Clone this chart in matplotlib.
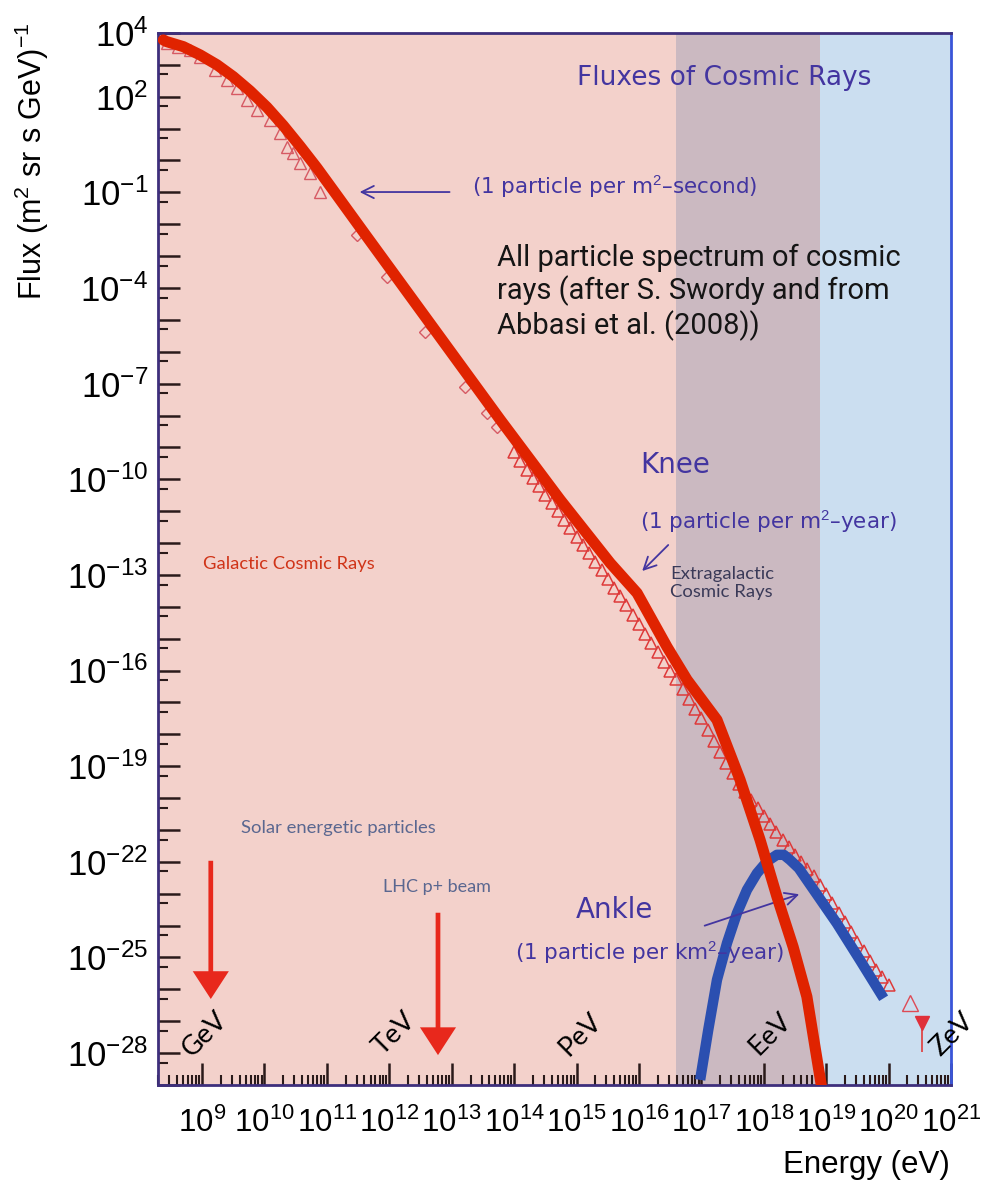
import math
import matplotlib.pyplot as plt
from matplotlib.ticker import FixedLocator, FuncFormatter, LogLocator, NullFormatter

plt.rcParams['font.family'] = 'Liberation Sans'
plt.rcParams['mathtext.fontset'] = 'custom'
plt.rcParams['mathtext.rm'] = 'Liberation Sans'

# all values are log10(E / eV) and log10(flux)
# hand drawn red curve (galactic cosmic rays)
fit_logE = [8.38, 8.43, 8.70, 8.97, 9.24, 9.50, 9.77, 10.04, 10.30, 10.57, 10.84, 11.10, 11.64,
            13.78, 14.74, 15.54, 15.97, 16.45, 16.77, 17.25, 17.62, 17.94, 18.21, 18.47,
            18.69, 18.82, 18.97]
fit_logF = [3.78, 3.73, 3.57, 3.31, 3.00, 2.63, 2.18, 1.67, 1.10, 0.45, -0.23, -0.93, -2.39,
            -8.14, -10.65, -12.63, -13.57, -15.26, -16.29, -17.55, -19.43, -21.31, -23.09, -24.67,
            -26.23, -27.80, -29.60]

# blue curve (extragalactic component)
extra_logE = [16.98, 17.11, 17.25, 17.41, 17.57, 17.73, 17.89, 18.05, 18.21, 18.32, 18.42,
              18.56, 18.69, 18.93, 19.17, 19.54, 19.92]
extra_logF = [-28.84, -27.27, -25.70, -24.55, -23.61, -22.88, -22.36, -21.99, -21.78, -21.78,
              -21.94, -22.20, -22.57, -23.25, -23.93, -25.08, -26.28]

# measured points: low energy triangles
low_logE = [8.44, 8.62, 8.81, 8.97, 9.21, 9.40, 9.56, 9.72, 9.88, 10.09, 10.25, 10.36, 10.46,
            10.57, 10.73, 10.89]
low_logF = [3.69, 3.56, 3.47, 3.25, 2.84, 2.53, 2.27, 1.90, 1.58, 1.27, 0.86, 0.42, 0.24,
            -0.08, -0.39, -0.99]
# diamonds
dia_logE = [11.48, 11.96, 12.57, 13.21, 13.56, 13.72]
dia_logF = [-2.34, -3.64, -5.37, -7.10, -7.92, -8.35]
# dense air shower data
band_logE = [14.0, 14.1, 14.2, 14.3, 14.4, 14.5, 14.6, 14.7, 14.8, 14.9, 15.0, 15.1, 15.2,
             15.3, 15.4, 15.5, 15.6, 15.7, 15.8, 15.9, 16.0, 16.1, 16.2, 16.3, 16.4, 16.5,
             16.6, 16.7, 16.8, 16.9, 17.0, 17.1, 17.2, 17.3, 17.4, 17.5, 17.6, 17.7, 17.8,
             17.9, 18.0, 18.1, 18.2, 18.3, 18.4, 18.5, 18.6, 18.7, 18.8, 18.9, 19.0, 19.1,
             19.2, 19.3, 19.4, 19.5, 19.6, 19.7, 19.8, 19.9, 20.0]
band_logF = [-9.15, -9.43, -9.70, -9.96, -10.22, -10.49, -10.75, -11.01, -11.27, -11.54, -11.80,
             -12.06, -12.32, -12.59, -12.85, -13.12, -13.40, -13.67, -13.95, -14.25, -14.55,
             -14.85, -15.15, -15.43, -15.72, -16.00, -16.28, -16.59, -16.90, -17.20, -17.50,
             -17.85, -18.20, -18.55, -18.90, -19.22, -19.55, -19.80, -20.05, -20.30, -20.55,
             -20.80, -21.05, -21.30, -21.55, -21.78, -22.00, -22.22, -22.45, -22.72, -23.00,
             -23.30, -23.60, -23.90, -24.20, -24.50, -24.80, -25.10, -25.40, -25.62, -25.85]
# highest energy points
top_logE = [20.35]
top_logF = [-26.43]
lim_logE = [20.53]
lim_logF = [-27.05]
lim_low = [-27.95]

# energy bands
galactic_end = 16.6
extra_start = 18.9

# reference energies
scale_names = ['GeV', 'TeV', 'PeV', 'EeV', 'ZeV']
scale_logE = [9.05, 12.09, 15.06, 18.10, 21.02]

# red arrows: solar particles and LHC beam
arrow_logE = [9.14, 12.78]
arrow_top = [-21.88, -23.51]
arrow_tip = [-26.39, -28.15]

y_labelled = [4, 2, -1, -4, -7, -10, -13, -16, -19, -22, -25, -28]


def p10(v):
    return [10.0 ** x for x in v]


fig = plt.figure(figsize=(9.94, 11.81), dpi=100)
ax = fig.add_axes([0.159, 0.0813, 0.7978, 0.8908])
ax.set_xscale('log')
ax.set_yscale('log')
ax.set_xlim(10 ** 8.295, 1e21)
ax.set_ylim(1e-29, 1e4)

ax.set_facecolor('#f3d1cb')
ax.axvspan(10 ** galactic_end, 10 ** extra_start, color='#cbb9c1', lw=0, zorder=0)
ax.axvspan(10 ** extra_start, 1e21, color='#cbdef0', lw=0, zorder=0)

purple = '#4335a0'

ax.plot(p10(low_logE), p10(low_logF), ls='none', marker='^', mfc='none', mec='#d65a64',
        ms=9, mew=1.0, zorder=2)
ax.plot(p10(dia_logE), p10(dia_logF), ls='none', marker='D', mfc='none', mec='#d65a64',
        ms=6, mew=1.0, zorder=2)
ax.plot(p10(band_logE), p10(band_logF), ls='none', marker='^', mfc='none', mec='#de3a3a',
        ms=8, mew=1.1, zorder=2)
ax.plot(p10(top_logE), p10(top_logF), ls='none', marker='^', mfc='none', mec='#de4a55',
        ms=12, mew=1.0, zorder=2)
ax.vlines(p10(lim_logE), p10(lim_low), p10(lim_logF), color='#e03a3a', lw=1.2, zorder=2)
ax.plot(p10(lim_logE), p10(lim_logF), ls='none', marker='v', color='#e0303a', ms=10, zorder=2)

ax.plot(p10(extra_logE), p10(extra_logF), color='#2b4fb0', lw=7.5,
        solid_capstyle='butt', zorder=3)
ax.plot(p10(fit_logE), p10(fit_logF), color='#e02300', lw=8,
        solid_capstyle='round', solid_joinstyle='round', zorder=4)

for e, top, tip in zip(arrow_logE, arrow_top, arrow_tip):
    ax.annotate('', xy=(10 ** e, 10 ** tip), xytext=(10 ** e, 10 ** top),
                arrowprops=dict(arrowstyle='simple,head_width=1.3,head_length=1.0,tail_width=0.17',
                                mutation_scale=20, color='#e8281c', lw=0))

for name, e in zip(scale_names, scale_logE):
    ax.text(10 ** e, 10 ** -27.4, name, rotation=45, ha='center', va='center',
            fontsize=19.5, family='Lato', color='black', clip_on=False)

# annotations from the original figure
ax.text(10 ** 15.0, 10 ** 2.59, 'Fluxes of Cosmic Rays', color=purple, fontsize=19,
        family='DejaVu Sans', va='center')
ax.text(10 ** 13.33, 10 ** -0.83, '(1 particle per m$^{2}$\u2013second)', color=purple,
        fontsize=15.5, family='DejaVu Sans', va='center')
ax.annotate('', xy=(10 ** 11.48, 10 ** -0.99), xytext=(10 ** 13.01, 10 ** -0.99),
            arrowprops=dict(arrowstyle='->', color=purple, lw=1.3, mutation_scale=22))
ax.text(10 ** 16.02, 10 ** -9.55, 'Knee', color=purple, fontsize=20,
        family='DejaVu Sans', va='center')
ax.text(10 ** 16.02, 10 ** -11.34, '(1 particle per m$^{2}$\u2013year)', color=purple,
        fontsize=15.5, family='DejaVu Sans', va='center')
ax.annotate('', xy=(10 ** 16.02, 10 ** -12.94), xytext=(10 ** 16.50, 10 ** -12.0),
            arrowprops=dict(arrowstyle='->', color=purple, lw=1.3, mutation_scale=22))
ax.text(10 ** 14.98, 10 ** -23.51, 'Ankle', color=purple, fontsize=20,
        family='DejaVu Sans', va='center')
ax.text(10 ** 14.02, 10 ** -24.86, '(1 particle per km$^{2}$\u2013year)', color=purple,
        fontsize=15.5, family='DejaVu Sans', va='center')
ax.annotate('', xy=(10 ** 18.61, 10 ** -22.99), xytext=(10 ** 17.01, 10 ** -24.03),
            arrowprops=dict(arrowstyle='->', color=purple, lw=1.3, mutation_scale=22))

ax.text(10 ** 13.73, 10 ** -2.62,
        'All particle spectrum of cosmic\nrays (after S. Swordy and from\nAbbasi et al. (2008))',
        color='#151515', fontsize=21, family='Roboto', va='top', linespacing=1.15)
ax.text(10 ** 9.02, 10 ** -12.66, 'Galactic Cosmic Rays', color='#d03418', fontsize=13.2,
        family='Lato', va='center')
ax.text(10 ** 16.5, 10 ** -13.25, 'Extragalactic\nCosmic Rays', color='#3a3a58', fontsize=13.3,
        family='Lato', va='center', linespacing=1.2)
ax.text(10 ** 9.63, 10 ** -20.94, 'Solar energetic particles', color='#5a6790', fontsize=13.3,
        family='Lato', va='center')
ax.text(10 ** 11.90, 10 ** -22.79, 'LHC p+ beam', color='#5a6790', fontsize=13.0,
        family='Lato', va='center')


# axes and ticks
def xlab(v, pos):
    return r'$\mathregular{10^{%d}}$' % round(math.log10(v))


def ylab(v, pos):
    n = round(math.log10(v))
    return r'$\mathregular{10^{%d}}$' % n if n in y_labelled else ''


ax.xaxis.set_major_locator(LogLocator(base=10, numticks=40))
ax.xaxis.set_minor_locator(LogLocator(base=10, subs=(2, 3, 4, 5, 6, 7, 8, 9), numticks=200))
ax.xaxis.set_minor_formatter(NullFormatter())
ax.xaxis.set_major_formatter(FuncFormatter(xlab))

ax.yaxis.set_major_locator(FixedLocator(p10(range(-29, 5))))
ax.yaxis.set_minor_locator(LogLocator(base=10, subs=(5,), numticks=200))
ax.yaxis.set_minor_formatter(NullFormatter())
ax.yaxis.set_major_formatter(FuncFormatter(ylab))

ax.tick_params(which='both', direction='in', top=False, right=False, color='#2a1a1a')
ax.tick_params(which='major', length=16, width=1.8)
ax.tick_params(axis='x', which='major', pad=16, labelsize=22.5)
ax.tick_params(axis='y', which='major', pad=7, labelsize=25)
ax.tick_params(which='minor', length=7, width=1.5)

for s in ['left', 'bottom', 'top']:
    ax.spines[s].set_color('#3e2f7c')
    ax.spines[s].set_linewidth(2)
ax.spines['right'].set_color('#3a55d8')
ax.spines['right'].set_linewidth(2)

fig.text(32 / 994, 1 - 161 / 1181, r'Flux (m$^{2}$ sr s GeV)$^{-1}$', rotation=90,
         ha='center', va='center', fontsize=22)
fig.text(950 / 994, 1 - 1165 / 1181, 'Energy (eV)', ha='right', va='center', fontsize=22.5)

fig.savefig('out.png', dpi=100)
